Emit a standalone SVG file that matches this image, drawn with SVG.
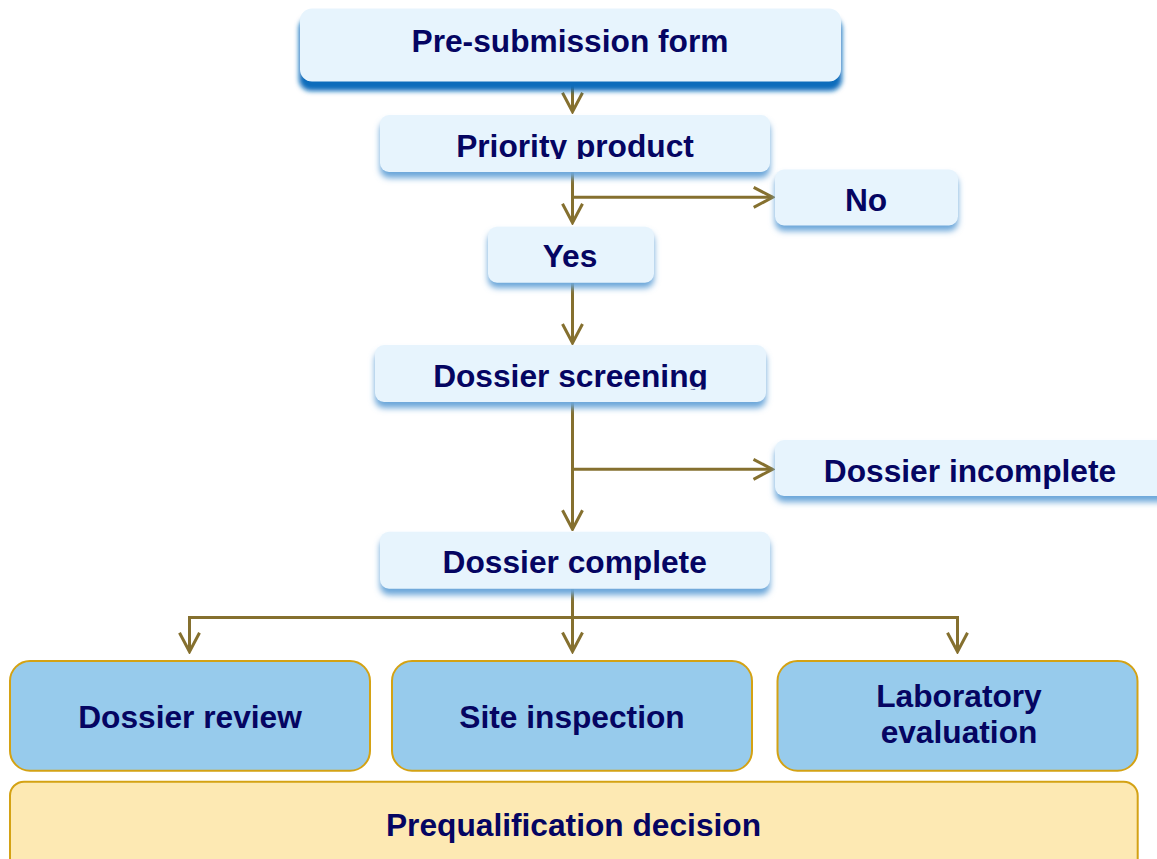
<svg xmlns="http://www.w3.org/2000/svg" width="1157" height="859" viewBox="0 0 1157 859">
<defs>
<style>
.lbl{font-family:"Liberation Sans",Arial,sans-serif;font-weight:bold;font-size:31.7px;fill:#050562;text-anchor:middle}
.lt{fill:#e7f4fd}
.sh{fill:#6aa6d9;filter:url(#blur)}
.shd{fill:#0a6cbb;filter:url(#blur2)}
.bl{fill:#97cbec;stroke:#d4a214;stroke-width:2}
.yl{fill:#fde9b3;stroke:#d4a214;stroke-width:2}
.con{fill:none;stroke:#85702f;stroke-width:3;marker-end:url(#arr)}
.ln{fill:none;stroke:#85702f;stroke-width:3}
</style>
<filter id="blur" x="-10%" y="-50%" width="120%" height="200%"><feGaussianBlur stdDeviation="3"/></filter>
<filter id="blur2" x="-10%" y="-50%" width="120%" height="200%"><feGaussianBlur stdDeviation="2.5"/></filter>
<marker id="arr" viewBox="-21 -12 23 24" markerWidth="23" markerHeight="24" refX="0" refY="0" orient="auto" markerUnits="userSpaceOnUse">
<path d="M-19,-10 L0,0 L-19,10" fill="none" stroke="#85702f" stroke-width="3"/>
</marker>
<clipPath id="clipPP"><rect x="370" y="100" width="420" height="59"/></clipPath>
<clipPath id="clipDS"><rect x="370" y="340" width="420" height="49.5"/></clipPath>
</defs>
<rect width="1157" height="859" fill="#ffffff"/>

<g id="connectors">
<path class="con" d="M572.5,82 V111.7"/>
<path class="con" d="M572.5,172 V222.7"/>
<path class="con" d="M572.5,197.3 H772.7"/>
<path class="con" d="M572.5,283 V343"/>
<path class="con" d="M572.5,402 V529.3"/>
<path class="con" d="M572.5,469.3 H772.5"/>
<path class="con" d="M572.5,588 V651.5"/>
<path class="ln" d="M189.5,640 V617.5 H957.5 V640" stroke-linejoin="miter"/>
<path class="con" d="M189.5,630 V651.7"/>
<path class="con" d="M957.5,630 V651.7"/>
</g>

<g id="node-presubmission">
<rect class="shd" x="299" y="17" width="543" height="74" rx="12"/>
<rect class="lt" x="300" y="8.5" width="541" height="73" rx="12"/>
<text class="lbl" x="570" y="52">Pre-submission form</text>
</g>

<g id="node-priority">
<rect class="sh" x="380" y="121" width="390" height="57" rx="9"/>
<rect class="lt" x="380" y="115" width="390" height="57" rx="9"/>
<text class="lbl" x="575" y="157" clip-path="url(#clipPP)">Priority product</text>
</g>

<g id="node-no">
<rect class="sh" x="775" y="175" width="183" height="56" rx="9"/>
<rect class="lt" x="775" y="169.5" width="183" height="56" rx="9"/>
<text class="lbl" x="866" y="210.5">No</text>
</g>

<g id="node-yes">
<rect class="sh" x="488" y="232" width="166" height="56" rx="9"/>
<rect class="lt" x="488" y="226.7" width="166" height="56" rx="9"/>
<text class="lbl" x="570" y="266.7">Yes</text>
</g>

<g id="node-screening">
<rect class="sh" x="375" y="351" width="391" height="57" rx="9"/>
<rect class="lt" x="375" y="345" width="391" height="57" rx="9"/>
<text class="lbl" x="570.5" y="386.7" clip-path="url(#clipDS)">Dossier screening</text>
</g>

<g id="node-incomplete">
<rect class="sh" x="775" y="446" width="400" height="56" rx="9"/>
<rect class="lt" x="775" y="440" width="400" height="56" rx="9"/>
<text class="lbl" x="970" y="481.7">Dossier incomplete</text>
</g>

<g id="node-complete">
<rect class="sh" x="380" y="538" width="390" height="57" rx="9"/>
<rect class="lt" x="380" y="531.7" width="390" height="57" rx="9"/>
<text class="lbl" x="574.7" y="573.3">Dossier complete</text>
</g>

<g id="node-review">
<rect class="bl" x="10" y="661" width="360" height="109.7" rx="20"/>
<text class="lbl" x="190" y="728.3">Dossier review</text>
</g>

<g id="node-inspection">
<rect class="bl" x="392" y="661" width="360" height="109.7" rx="20"/>
<text class="lbl" x="572" y="728.3">Site inspection</text>
</g>

<g id="node-laboratory">
<rect class="bl" x="777.5" y="661" width="360" height="109.7" rx="20"/>
<text class="lbl" x="959" y="707.3">Laboratory</text>
<text class="lbl" x="959" y="743.3">evaluation</text>
</g>

<g id="node-decision">
<rect class="yl" x="10" y="781.7" width="1127.7" height="100" rx="14"/>
<text class="lbl" x="573.5" y="835.5">Prequalification decision</text>
</g>
</svg>
